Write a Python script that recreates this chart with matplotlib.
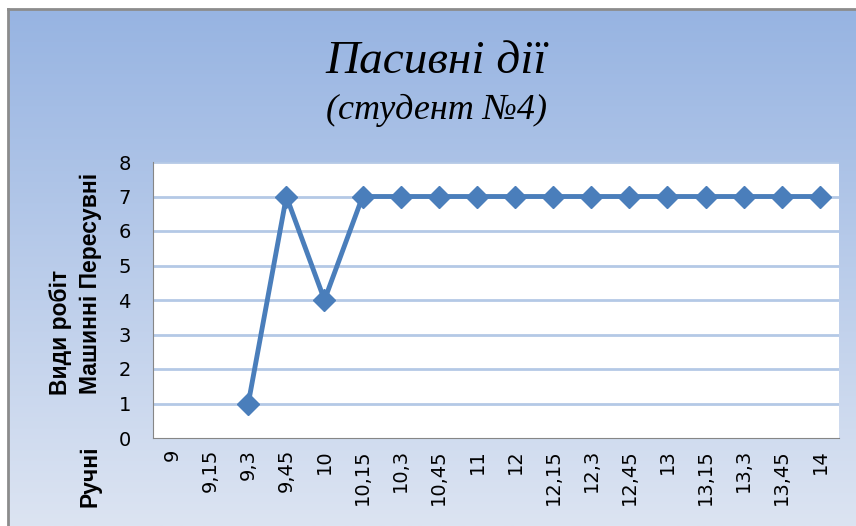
import matplotlib
matplotlib.use("Agg")
import matplotlib.pyplot as plt
import numpy as np
from matplotlib.colors import LinearSegmentedColormap

# data
times = ["9", "9,15", "9,3", "9,45", "10", "10,15", "10,3", "10,45", "11", "12",
         "12,15", "12,3", "12,45", "13", "13,15", "13,3", "13,45", "14"]
values = [np.nan, np.nan, 1, 7, 4, 7, 7, 7, 7, 7, 7, 7, 7, 7, 7, 7, 7, 7]
y_ticks = [0, 1, 2, 3, 4, 5, 6, 7, 8]

W, H = 856, 526
fig = plt.figure(figsize=(W / 100, H / 100), dpi=100)
fig.patch.set_facecolor("white")

# gradient background with grey border on left/top
bg = fig.add_axes([8 / W, 0, (W - 8) / W, (H - 9) / H])
cmap = LinearSegmentedColormap.from_list("bg", ["#97b4e2", "#dce4f2"])
bg.imshow(np.linspace(0, 1, 256).reshape(-1, 1), aspect="auto", cmap=cmap,
          extent=[0, 1, 0, 1])
bg.set_xticks([])
bg.set_yticks([])
for s in ["right", "bottom"]:
    bg.spines[s].set_visible(False)
for s in ["left", "top"]:
    bg.spines[s].set_color("#8c8c8c")
    bg.spines[s].set_linewidth(2)

# plot area
ax = fig.add_axes([153 / W, (H - 438) / H, (839 - 153) / W, (438 - 162) / H])
ax.set_facecolor("white")
x = np.arange(len(times))
ax.plot(x, values, color="#4a7ebb", lw=3.5, marker="D", ms=11,
        markerfacecolor="#4a7ebb", markeredgecolor="#4a7ebb", zorder=3)
ax.set_xlim(-0.5, len(times) - 0.5)
ax.set_ylim(0, 8)
ax.set_yticks(y_ticks)
ax.set_xticks(x)
ax.set_xticklabels(times, rotation=90, fontsize=14, family="DejaVu Sans")
ax.tick_params(axis="y", labelsize=14, length=0, pad=16)
ax.tick_params(axis="x", length=0, pad=8)
for yv in y_ticks[1:]:
    ax.axhline(yv, color="#b4c9e6", lw=2, zorder=1)
ax.spines["top"].set_visible(False)
ax.spines["right"].set_visible(False)
ax.spines["left"].set_color("#868686")
ax.spines["bottom"].set_color("#868686")

# titles
fig.text(436 / W, 1 - 62 / H, "Пасивні дії", ha="center", va="center",
         fontsize=34, style="italic", family="Liberation Serif")
fig.text(436 / W, 1 - 110 / H, "(студент №4)", ha="center", va="center",
         fontsize=26, style="italic", family="Liberation Serif")

# y axis labels
lab = dict(rotation=90, ha="center", va="center", fontsize=16.5,
           fontweight="bold", family="Liberation Sans")
fig.text(61 / W, 1 - 332 / H, "Види робіт", **lab)
fig.text(90 / W, 1 - 283 / H, "Машинні Пересувні", **lab)
fig.text(90 / W, 1 - 476 / H, "Ручні", **lab)

plt.savefig("out.png", dpi=100)
plt.close()
